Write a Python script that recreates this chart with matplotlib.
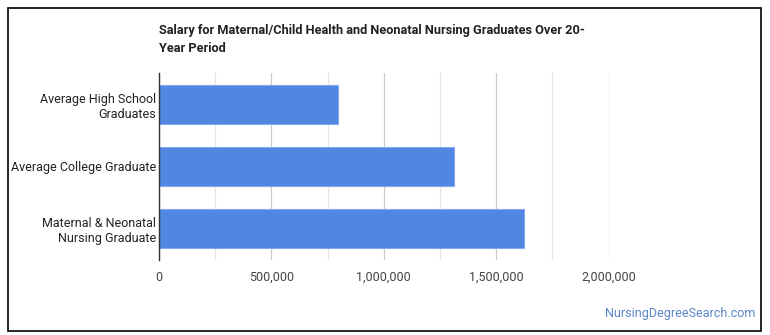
import matplotlib.pyplot as plt
from matplotlib.ticker import FuncFormatter, MultipleLocator
from matplotlib.patches import Rectangle

plt.rcParams['font.family'] = ['Roboto', 'DejaVu Sans']

# data (top to bottom)
categories = ['Average High School\nGraduates', 'Average College Graduate',
              'Maternal & Neonatal\nNursing Graduate']
salaries = [797000, 1312000, 1625000]
title = 'Salary for Maternal/Child Health and Neonatal Nursing Graduates Over 20-\nYear Period'

fig = plt.figure(figsize=(7.7, 3.35), dpi=100)
ax = fig.add_axes([0.2065, 0.224, 0.584, 0.558])

pos = list(range(len(categories)))
ax.barh(pos, salaries, height=0.62, color='#5186e2', edgecolor='#84a9ec', linewidth=0.8, zorder=3)
ax.set_ylim(len(categories) - 0.5, -0.5)
ax.set_yticks(pos)
ax.set_yticklabels(categories, fontsize=9, color='#222222')
ax.set_xlim(0, 2000000)
ax.xaxis.set_major_locator(MultipleLocator(500000))
ax.xaxis.set_minor_locator(MultipleLocator(250000))
ax.xaxis.set_major_formatter(FuncFormatter(lambda v, p: f'{int(v):,}'))
ax.tick_params(axis='x', which='both', length=0, labelsize=9, labelcolor='#444444', pad=8)
ax.tick_params(axis='y', length=0, pad=2)
ax.grid(axis='x', which='major', color='#cccccc', linewidth=0.9, zorder=0)
ax.grid(axis='x', which='minor', color='#e6e6e6', linewidth=0.9, zorder=0)
for s in ['top', 'right', 'bottom']:
    ax.spines[s].set_visible(False)
ax.spines['left'].set_color('#333333')
ax.spines['left'].set_linewidth(1.0)
ax.spines['left'].set_zorder(4)

fig.text(159 / 770, 1 - 24 / 335, title, fontsize=9.2, fontweight='bold',
         color='#222222', ha='left', va='top', linespacing=1.45)
fig.text(755 / 770, 1 - 313 / 335, 'NursingDegreeSearch.com', fontsize=9,
         color='#5b86c8', ha='right', va='center')

fig.patches.append(Rectangle((8 / 770, 1 - 331 / 335), 753 / 770, 323 / 335,
                             transform=fig.transFigure, fill=False,
                             edgecolor='black', linewidth=1.2))

fig.savefig('out.png', dpi=100)
